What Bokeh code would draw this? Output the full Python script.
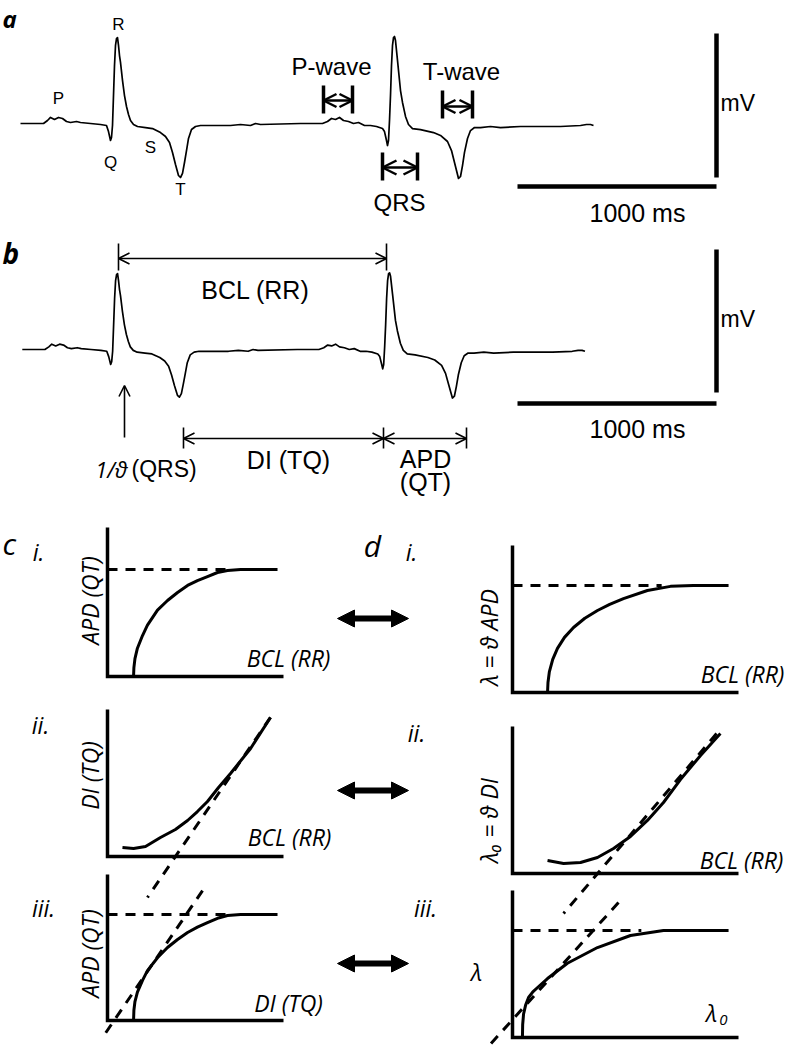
import math
from bokeh.plotting import figure
from bokeh.models import Range1d, Arrow, OpenHead, NormalHead
from bokeh.core.properties import value
from bokeh.embed import file_html
from bokeh.resources import INLINE

# ---------------- data ----------------
# ECG trace (time in ms from trace start, voltage in mV)
ECG_T_MS = [0, 115, 135, 150, 170, 190, 210, 230, 250, 280, 300, 350, 400, 430, 440, 450, 455, 460,
            465, 470, 475, 480, 485, 490, 495, 500, 510, 520, 530, 540, 550, 565, 585, 625, 660, 700,
            725, 745, 760, 775, 790, 800, 810, 820, 830, 840, 855, 875, 900, 1050, 1100, 1150, 1175,
            1200, 1400, 1510, 1535, 1555, 1575, 1595, 1615, 1640, 1665, 1690, 1720, 1750, 1780, 1810,
            1820, 1830, 1835, 1840, 1845, 1850, 1855, 1860, 1865, 1870, 1875, 1885, 1900, 1910, 1925,
            1940, 1960, 2000, 2065, 2100, 2135, 2155, 2170, 2185, 2190, 2200, 2210, 2220, 2235, 2250,
            2270, 2300, 2350, 2400, 2500, 2600, 2700, 2800, 2830, 2850, 2865]
ECG_MV = [0, 0, 0.021, 0.042, 0.028, 0.042, 0.035, 0.014, 0.007, 0.014, 0.007, 0, -0.007, -0.014,
          -0.056, -0.118, -0.097, -0.014, 0.194, 0.403, 0.542, 0.590, 0.597, 0.542, 0.472, 0.424,
          0.299, 0.194, 0.118, 0.063, 0.021, -0.007, -0.021, -0.028, -0.035, -0.063, -0.090, -0.132,
          -0.201, -0.285, -0.361, -0.375, -0.347, -0.271, -0.188, -0.104, -0.042, -0.021, -0.014,
          -0.014, -0.007, -0.014, 0, -0.007, 0, 0, 0.014, 0.035, 0.028, 0.042, 0.021, 0.014, 0,
          0.007, -0.014, -0.014, -0.021, -0.035, -0.056, -0.118, -0.153, -0.118, 0.021, 0.194,
          0.403, 0.542, 0.597, 0.604, 0.576, 0.438, 0.229, 0.146, 0.049, -0.007, -0.035, -0.042,
          -0.063, -0.083, -0.125, -0.188, -0.271, -0.354, -0.382, -0.368, -0.292, -0.201, -0.104,
          -0.049, -0.028, -0.028, -0.021, -0.028, -0.021, -0.021, -0.021, -0.014, -0.007, -0.007,
          -0.014]

# restitution sketches (normalised 0..1 along each axis)
CI_U = [0.148, 0.150, 0.156, 0.170, 0.199, 0.227, 0.284, 0.341, 0.398, 0.455, 0.511, 0.568, 0.625, 0.682, 0.756, 0.966]
CI_W = [0.0, 0.06, 0.12, 0.19, 0.275, 0.345, 0.446, 0.510, 0.564, 0.611, 0.644, 0.671, 0.698, 0.711, 0.718, 0.718]
CI_LEVEL = 0.718

CII_U = [0.085, 0.148, 0.216, 0.301, 0.386, 0.455, 0.511, 0.568, 0.631, 0.699, 0.813, 0.926]
CII_W = [0.061, 0.054, 0.068, 0.129, 0.184, 0.245, 0.306, 0.374, 0.469, 0.565, 0.735, 0.946]
CII_TANGENT_U = [0.926, 0.227]
CII_TANGENT_W = [0.946, -0.279]

CIII_U = [0.148, 0.150, 0.156, 0.170, 0.199, 0.227, 0.284, 0.341, 0.398, 0.455, 0.511, 0.568, 0.625, 0.682, 0.756, 0.966]
CIII_W = [0.0, 0.07, 0.13, 0.195, 0.275, 0.342, 0.43, 0.5, 0.555, 0.603, 0.64, 0.671, 0.70, 0.719, 0.726, 0.726]
CIII_LEVEL = 0.726
CIII_TANGENT_U = [0.540, -0.028]
CIII_TANGENT_W = [0.890, -0.116]

DI_U = [0.155, 0.157, 0.163, 0.178, 0.199, 0.230, 0.270, 0.320, 0.376, 0.430, 0.491, 0.597, 0.699, 0.80, 0.956]
DI_W = [0.0, 0.068, 0.140, 0.225, 0.300, 0.375, 0.442, 0.505, 0.558, 0.600, 0.639, 0.694, 0.722, 0.728, 0.728]
DI_LEVEL = 0.728

DII_U = [0.155, 0.226, 0.301, 0.376, 0.447, 0.522, 0.597, 0.668, 0.743, 0.832, 0.920]
DII_W = [0.088, 0.068, 0.075, 0.109, 0.170, 0.252, 0.361, 0.483, 0.639, 0.803, 0.952]
DII_TANGENT_U = [0.903, 0.226]
DII_TANGENT_W = [0.952, -0.272]

DIII_U = [0.044, 0.045, 0.049, 0.058, 0.071, 0.090, 0.111, 0.155, 0.243, 0.376, 0.522, 0.668, 0.956]
DIII_W = [0.0, 0.088, 0.160, 0.220, 0.272, 0.310, 0.340, 0.401, 0.505, 0.612, 0.694, 0.728, 0.728]
DIII_LEVEL = 0.728
DIII_TANGENT_U = [0.469, -0.111]
DIII_TANGENT_W = [0.918, -0.068]

SCALE_BAR_MS = 1000

# ---------------- figure ----------------
W, H = 788, 1050
p = figure(width=W, height=H, x_range=Range1d(0, W), y_range=Range1d(H, 0),
           output_backend="svg", toolbar_location=None, x_axis_type=None, y_axis_type=None,
           min_border=0)
p.outline_line_color = None
p.background_fill_color = "white"
p.border_fill_color = "white"

ARIAL = "Liberation Sans"
CAL = "Open Sans"


def txt(x, y, s, size, font=ARIAL, style="normal", align="center", baseline="middle", angle=0.0):
    p.text(x=[x], y=[y], text=[s], text_font=value(font), text_font_size=f"{size}px",
           text_font_style=style, text_align=align, text_baseline=baseline, angle=angle,
           text_color="black")


def seg(xs, ys, w=1.5, dash="solid"):
    p.line(xs, ys, line_color="black", line_width=w, line_dash=dash, line_join="round")


# ---------------- panel a / b ECG ----------------
def ecg(x0, px_per_ms, y0, px_per_mv):
    xs = [x0 + t * px_per_ms for t in ECG_T_MS]
    ys = [y0 - v * px_per_mv for v in ECG_MV]
    p.line(xs, ys, line_color="black", line_width=1.7, line_join="round")


ecg(20, 0.2, 123, 144)
ecg(21.8, 0.1964, 349, 127)

# scale bars
for (yt, yb, yh) in [(33, 177, 186), (249, 392, 403)]:
    seg([716, 716], [yt, yb], w=4.5)
    seg([716 - SCALE_BAR_MS * 0.199, 716], [yh, yh], w=4.5)

txt(720, 102, "mV", 23, align="left")
txt(637, 212, "1000 ms", 25)
txt(720, 318, "mV", 23, align="left")
txt(637, 428, "1000 ms", 25)

# panel letters
txt(2, 18, "a", 24, font=CAL, style="bold italic", align="left")
txt(2, 252, "b", 28, font=CAL, style="bold italic", align="left")

# wave letters
txt(58, 98, "P", 17)
txt(118, 24, "R", 17)
txt(110, 162, "Q", 17)
txt(150, 147, "S", 17)
txt(180, 189, "T", 17)


# interval markers (thick)
def interval(xa, xb, yt, yb, ya, head=13, w=3.5):
    seg([xa, xa], [yt, yb], w=w)
    seg([xb, xb], [yt, yb], w=w)
    p.add_layout(Arrow(x_start=xa, y_start=ya, x_end=xb, y_end=ya, line_width=2.5,
                       start=OpenHead(size=head, line_width=2.5),
                       end=OpenHead(size=head, line_width=2.5)))


interval(323, 352, 85, 113, 100)
interval(442, 472, 90, 118, 106)
interval(382, 417, 152, 180, 167, head=14)
txt(331, 66, "P-wave", 24)
txt(461, 71, "T-wave", 24)
txt(399, 202, "QRS", 24)


# thin interval arrows (panel b)
def thin_arrow(xa, xb, y, start=True, end=True):
    p.add_layout(Arrow(x_start=xa, y_start=y, x_end=xb, y_end=y, line_width=1.6,
                       start=OpenHead(size=11, line_width=1.6) if start else None,
                       end=OpenHead(size=11, line_width=1.6) if end else None))


seg([118, 118], [243, 270], w=1.6)
seg([386, 386], [243, 270], w=1.6)
thin_arrow(118, 386, 258)
txt(255, 289, "BCL (RR)", 25)

seg([183, 183], [427, 448], w=1.6)
seg([383, 383], [427, 448], w=1.6)
seg([466, 466], [427, 448], w=1.6)
thin_arrow(183, 383, 438)
thin_arrow(383, 466, 438)
txt(288, 459, "DI (TQ)", 25)
txt(425, 458, "APD", 25)
txt(425, 481, "(QT)", 25)

p.add_layout(Arrow(x_start=124, y_start=437, x_end=124, y_end=385, line_width=1.6,
                   end=OpenHead(size=11, line_width=1.6)))
txt(127, 468, "1/ϑ", 22, font=CAL, style="italic", align="right")
txt(131, 468, "(QRS)", 23, align="left")


# ---------------- panels c / d ----------------
def box_map(box, us, ws):
    x0, wd, yb, ht = box
    return [x0 + u * wd for u in us], [yb - w * ht for w in ws]


def axes(box):
    x0, wd, yb, ht = box
    p.line([x0, x0, x0 + wd], [yb - ht, yb, yb], line_color="black", line_width=3.5,
           line_join="miter")


BOX_CI = (107, 176, 676, 149)
BOX_CII = (107, 176, 856, 147)
BOX_CIII = (107, 176, 1020, 146)
BOX_DI = (512, 226, 692, 147)
BOX_DII = (512, 226, 873, 147)
BOX_DIII = (512, 226, 1037, 147)

DASH = "10 8"

for box, us, ws, lvl, dash_end in [(BOX_CI, CI_U, CI_W, CI_LEVEL, 0.68),
                                   (BOX_CIII, CIII_U, CIII_W, CIII_LEVEL, 0.68),
                                   (BOX_DI, DI_U, DI_W, DI_LEVEL, 0.66),
                                   (BOX_DIII, DIII_U, DIII_W, DIII_LEVEL, 0.57)]:
    axes(box)
    xs, ys = box_map(box, us, ws)
    seg(xs, ys, w=3)
    xs, ys = box_map(box, [0, dash_end], [lvl, lvl])
    seg(xs, ys, w=3, dash=DASH)

for box, us, ws in [(BOX_CII, CII_U, CII_W), (BOX_DII, DII_U, DII_W)]:
    axes(box)
    xs, ys = box_map(box, us, ws)
    seg(xs, ys, w=3)

for box, us, ws in [(BOX_CII, CII_TANGENT_U, CII_TANGENT_W), (BOX_CIII, CIII_TANGENT_U, CIII_TANGENT_W),
                    (BOX_DII, DII_TANGENT_U, DII_TANGENT_W), (BOX_DIII, DIII_TANGENT_U, DIII_TANGENT_W)]:
    xs, ys = box_map(box, us, ws)
    seg(xs, ys, w=3, dash=DASH)

# double arrows between c and d
for y in [618, 790, 963]:
    p.add_layout(Arrow(x_start=337, y_start=y, x_end=408, y_end=y, line_width=6,
                       start=NormalHead(size=17, fill_color="black", line_color="black"),
                       end=NormalHead(size=17, fill_color="black", line_color="black")))

# labels c / d
txt(2, 543, "c", 30, font=CAL, style="italic", align="left")
txt(372, 545, "d", 30, font=CAL, style="italic")
txt(38, 551, "i.", 23, font=CAL, style="italic")
txt(40, 724, "ii.", 23, font=CAL, style="italic")
txt(43, 907, "iii.", 23, font=CAL, style="italic")
txt(411, 551, "i.", 23, font=CAL, style="italic")
txt(416, 732, "ii.", 23, font=CAL, style="italic")
txt(425, 907, "iii.", 23, font=CAL, style="italic")

R90 = math.pi / 2
txt(89, 600, "APD (QT)", 23, font=CAL, style="italic", angle=R90)
txt(89, 775, "DI (TQ)", 23, font=CAL, style="italic", angle=R90)
txt(89, 953, "APD (QT)", 23, font=CAL, style="italic", angle=R90)
txt(288, 657, "BCL (RR)", 23, font=CAL, style="italic")
txt(289, 836, "BCL (RR)", 23, font=CAL, style="italic")
txt(288, 1002, "DI (TQ)", 23, font=CAL, style="italic")

txt(488, 637, "λ = ϑ APD", 23, font=CAL, style="italic", angle=R90)
txt(488, 820, "λ₀ = ϑ DI", 23, font=CAL, style="italic", angle=R90)
txt(742, 673, "BCL (RR)", 23, font=CAL, style="italic")
txt(741, 859, "BCL (RR)", 23, font=CAL, style="italic")
txt(476, 971, "λ", 23, font=CAL, style="italic")
txt(711, 1012, "λ", 23, font=CAL, style="italic")
txt(723, 1019, "0", 15, font=CAL, style="italic")

open("out.html", "w").write(file_html(p, INLINE))
